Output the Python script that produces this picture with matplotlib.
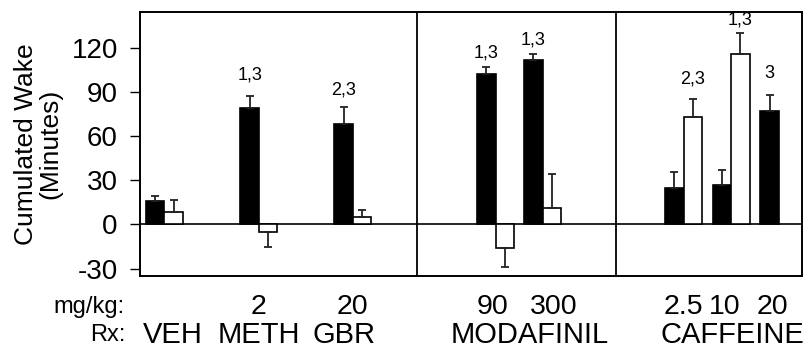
import numpy as np
import matplotlib
matplotlib.use("Agg")
import matplotlib.pyplot as plt

plt.rcParams['font.family'] = ['Liberation Sans', 'DejaVu Sans']
plt.rcParams['axes.unicode_minus'] = False

# datos
grupos = ["VEH", "METH 2", "GBR 20", "MODA 90", "MODA 300", "CAF 2.5", "CAF 10", "CAF 20"]
pos = np.array([0.52, 2.53, 4.53, 7.57, 8.57, 11.57, 12.58, 13.6])
negro = np.array([16, 79, 68, 102, 112, 25, 27, 77])
negro_err = np.array([3, 8.5, 12, 5, 4, 10.5, 10, 11])
blanco = np.array([8.5, -5, 5, -16, 11, 73, 116, np.nan])
blanco_err = np.array([8, 10, 4.5, 13, 23, 12, 14, np.nan])

notas_negro = ["", "1,3", "2,3", "1,3", "1,3", "", "", "3"]
notas_negro_y = [0, 95.5, 85.5, 111, 119.5, 0, 0, 97]
notas_blanco = ["", "", "", "", "", "2,3", "1,3", ""]
notas_blanco_y = [0, 0, 0, 0, 0, 93, 133, 0]

dosis = ["2", "20", "90", "300", "2.5", "10", "20"]
dosis_x = [2.53, 4.53, 7.5, 8.8, 11.57, 12.45, 13.45]
drogas = ["VEH", "METH", "GBR", "MODAFINIL", "CAFFEINE"]
drogas_x = [0.7, 2.53, 4.35, 8.3, 12.6]
divisiones = [5.89, 10.13]

ancho = 0.394

f = plt.figure(figsize=(8.11, 3.5), dpi=100)
ax = f.add_axes([140/811, 74/350, 662/811, 264/350])

def errores(v, e):
    abajo = np.where(v < 0, e, 0)
    arriba = np.where(v >= 0, e, 0)
    return [abajo, arriba]

ax.bar(pos - ancho/2, negro, width=ancho, color='black', edgecolor='black', linewidth=1.2, zorder=2)
ax.bar(pos + ancho/2, blanco, width=ancho, color='white', edgecolor='black', linewidth=1.2, zorder=2)
ax.errorbar(pos - ancho/2, negro, yerr=errores(negro, negro_err), fmt='none',
            ecolor='#222222', elinewidth=1.3, capsize=3, capthick=1.3, zorder=3)
ok = ~np.isnan(blanco)
ax.errorbar((pos + ancho/2)[ok], blanco[ok], yerr=errores(blanco[ok], blanco_err[ok]), fmt='none',
            ecolor='#222222', elinewidth=1.3, capsize=3, capthick=1.3, zorder=3)

for i in range(len(pos)):
    if notas_negro[i]:
        ax.text(pos[i] - ancho/2, notas_negro_y[i], notas_negro[i], ha='center', va='bottom', fontsize=13)
    if notas_blanco[i]:
        ax.text(pos[i] + ancho/2, notas_blanco_y[i], notas_blanco[i], ha='center', va='bottom', fontsize=13)

ax.axhline(0, color='black', linewidth=1.2, zorder=1)
for d in divisiones:
    ax.axvline(d, color='black', linewidth=1.3)

ax.set_xlim(0, 14.09)
ax.set_ylim(-35, 144.3)
ax.set_yticks([-30, 0, 30, 60, 90, 120])
ax.set_xticks([])
ax.tick_params(axis='y', direction='out', length=7, width=1, pad=9, labelsize=20)
for s in ax.spines.values():
    s.set_linewidth(1.4)

# textos de abajo
for x, t in zip(dosis_x, dosis):
    xf = (140 + x*47) / 811
    f.text(xf, 1 - 307/350, t, fontsize=20.5, ha='center', va='center')
f.text(125/811, 1 - 307/350, "mg/kg:", fontsize=17, ha='right', va='center')
f.text(125/811, 1 - 335/350, "Rx:", fontsize=17, ha='right', va='center')
for x, t in zip(drogas_x, drogas):
    xf = (140 + x*47) / 811
    f.text(xf, 1 - 335/350, t, fontsize=21, ha='center', va='center')

f.text(38/811, 1 - 144/350, "Cumulated Wake\n(Minutes)", rotation=90, fontsize=19,
       ha='center', va='center', linespacing=1.05)

f.savefig("out.png", dpi=100)
